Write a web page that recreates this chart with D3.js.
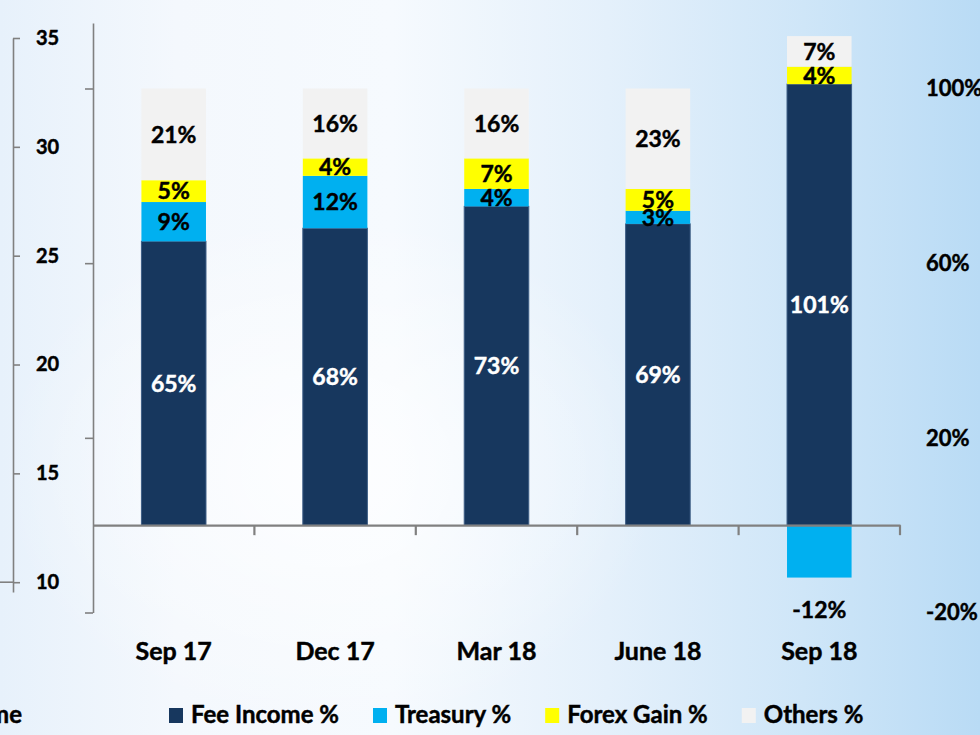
<!DOCTYPE html>
<html>
<head>
<meta charset="utf-8">
<script src="https://cdn.jsdelivr.net/npm/d3@7"></script>
<style>
  body { margin: 0; overflow: hidden; }
  svg { display: block; font-family: Lato, "Open Sans", sans-serif; font-weight: 700; }
  svg text { stroke-width: 0.45px; paint-order: stroke; }
</style>
</head>
<body>
<svg id="chart" width="980" height="735"></svg>
<script>
const categories = ["Sep 17", "Dec 17", "Mar 18", "June 18", "Sep 18"];
const feeIncome = [65, 68, 73, 69, 101];
const treasury = [9, 12, 4, 3, -12];
const forexGain = [5, 4, 7, 5, 4];
const others = [21, 16, 16, 23, 7];
const seriesNames = ["Fee Income %", "Treasury %", "Forex Gain %", "Others %"];
const seriesColors = ["#17375e", "#00b0f0", "#ffff00", "#f2f2f2"];
const leftTicks = [10, 15, 20, 25, 30, 35];
const pctTicks = [-20, 20, 60, 100];

const width = 980, height = 735;
const svg = d3.select("#chart");

// background
const defs = svg.append("defs");
const bg = defs.append("linearGradient").attr("id", "bg");
[["0%", "#e7f1fb"], ["18%", "#f4f8fd"], ["40%", "#f6fafe"], ["62%", "#e4f0fb"],
 ["82%", "#cfe6f8"], ["100%", "#b9dbf5"]]
  .forEach(([o, c]) => bg.append("stop").attr("offset", o).attr("stop-color", c));
const glow = defs.append("radialGradient").attr("id", "glow");
glow.append("stop").attr("offset", "0%").attr("stop-color", "#fff").attr("stop-opacity", 0.8);
glow.append("stop").attr("offset", "100%").attr("stop-color", "#fff").attr("stop-opacity", 0);

svg.append("rect").attr("width", width).attr("height", height).attr("fill", "url(#bg)");
svg.append("ellipse").attr("cx", 330).attr("cy", 470).attr("rx", 330).attr("ry", 260)
  .attr("fill", "url(#glow)");

const rows = categories.map((c, i) => ({
  cat: c,
  [seriesNames[0]]: feeIncome[i],
  [seriesNames[1]]: treasury[i],
  [seriesNames[2]]: forexGain[i],
  [seriesNames[3]]: others[i]
}));

const x = d3.scaleBand().domain(categories).range([93, 900])
  .paddingInner(0.6).paddingOuter(0.3);
const y = d3.scaleLinear().domain([-20, 115]).range([612.5, 23]);
const yLeft = d3.scaleLinear().domain([9.55, 35]).range([592, 38]);

const color = d3.scaleOrdinal().domain(seriesNames).range(seriesColors);

const stacked = d3.stack().keys(seriesNames).offset(d3.stackOffsetDiverging)(rows);

// left value axis (other chart)
const leftAxis = svg.append("g")
  .attr("transform", "translate(13,0)")
  .call(d3.axisRight(yLeft).tickValues(leftTicks).tickSize(7).tickSizeOuter(0).tickFormat(d => d));
leftAxis.selectAll("path, line").attr("stroke", "#808080").attr("stroke-width", 1.6);
leftAxis.selectAll("text")
  .attr("x", 23).attr("font-size", 20).attr("font-family", "Lato").attr("font-weight", 700)
  .attr("fill", "#000").attr("stroke", "#000");
svg.append("line")
  .attr("x1", 0).attr("x2", 13).attr("y1", yLeft(10)).attr("y2", yLeft(10))
  .attr("stroke", "#808080").attr("stroke-width", 1.6);

// bars
const layer = svg.append("g").selectAll("g")
  .data(stacked)
  .join("g")
  .attr("fill", d => color(d.key));

layer.selectAll("rect")
  .data(d => d.map(v => Object.assign(v, { key: d.key })))
  .join("rect")
  .attr("x", d => x(d.data.cat))
  .attr("width", x.bandwidth())
  .attr("y", d => y(Math.max(d[0], d[1])))
  .attr("height", d => Math.abs(y(d[0]) - y(d[1])))
  .attr("stroke", d => d.key === seriesNames[0] ? "#3d5d85" : "none")
  .attr("stroke-width", 1);

// percent axis on the left of the plot
const pctAxis = svg.append("g")
  .attr("transform", "translate(93,0)")
  .call(d3.axisLeft(y).tickValues(pctTicks).tickSize(8).tickSizeOuter(0).tickFormat(""));
pctAxis.selectAll("path, line").attr("stroke", "#808080").attr("stroke-width", 1.6);

// zero line with category dividers
const zeroAxis = svg.append("g")
  .attr("transform", `translate(0,${y(0)})`)
  .call(d3.axisBottom(x).tickSize(0).tickFormat(""));
zeroAxis.select(".domain").attr("stroke", "#808080").attr("stroke-width", 2.2);
zeroAxis.selectAll(".tick").remove();
const divX = d => x(d) + x.bandwidth() / 2 + x.step() / 2;
zeroAxis.selectAll(".divider")
  .data(categories)
  .join("line")
  .attr("x1", divX)
  .attr("x2", divX)
  .attr("y1", 0).attr("y2", 10)
  .attr("stroke", "#808080").attr("stroke-width", 2.2);

// right percent labels
svg.append("g").selectAll("text")
  .data(pctTicks)
  .join("text")
  .attr("x", 926)
  .attr("y", d => y(d))
  .attr("dy", "0.35em")
  .attr("font-size", 22)
  .attr("fill", "#000").attr("stroke", "#000")
  .text(d => d + "%");

// segment labels
svg.append("g").selectAll("g")
  .data(stacked)
  .join("g")
  .selectAll("text")
  .data(d => d)
  .join("text")
  .attr("x", d => x(d.data.cat) + x.bandwidth() / 2)
  .attr("y", d => d.data[d.key] < 0 ? y(d[0]) + 32 : (y(d[0]) + y(d[1])) / 2)
  .attr("dy", "0.36em")
  .attr("text-anchor", "middle")
  .attr("font-size", 23)
  .attr("fill", d => d.key === seriesNames[0] ? "#fff" : "#000")
  .attr("stroke", d => d.key === seriesNames[0] ? "#fff" : "#000")
  .text(d => d.data[d.key] + "%");

// category labels
svg.append("g").selectAll("text")
  .data(categories)
  .join("text")
  .attr("x", d => x(d) + x.bandwidth() / 2)
  .attr("y", 660)
  .attr("text-anchor", "middle")
  .attr("font-size", 25)
  .attr("fill", "#000").attr("stroke", "#000")
  .text(d => d);

// legend
const legend = svg.append("g");
legend.append("text")
  .attr("x", 22).attr("y", 723).attr("text-anchor", "end")
  .attr("font-size", 24).attr("fill", "#000").attr("stroke", "#000").text("Income");

let lx = 169;
seriesNames.forEach((name, i) => {
  const g = legend.append("g");
  g.append("rect")
    .attr("x", lx).attr("y", 708).attr("width", 14).attr("height", 15)
    .attr("fill", color(name));
  const t = g.append("text")
    .attr("x", lx + 22).attr("y", 723)
    .attr("font-size", 24).attr("fill", "#000").attr("stroke", "#000")
    .text(name);
  lx += 22 + t.node().getComputedTextLength() + 34;
});
</script>
</body>
</html>
